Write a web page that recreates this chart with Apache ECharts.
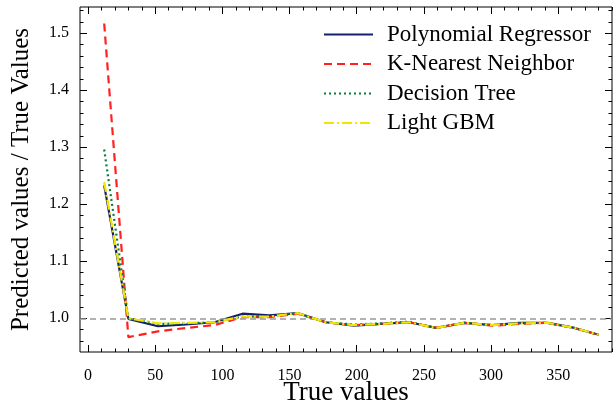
<!DOCTYPE html>
<html>
<head>
<meta charset="utf-8">
<script src="https://cdn.jsdelivr.net/npm/echarts@6/dist/echarts.min.js"></script>
<style>
html,body{margin:0;padding:0;background:#fff;}
#chart{width:613px;height:405px;}
</style>
</head>
<body>
<div id="chart"></div>
<script>
// ---- data ----
const xVals = [12, 30, 52, 73, 94, 115, 135, 156, 177, 198, 218, 239, 259, 280, 301, 321, 342, 362, 380];
const polyReg = [1.233, 0.999, 0.986, 0.989, 0.993, 1.008, 1.005, 1.009, 0.993, 0.987, 0.990, 0.993, 0.983, 0.992, 0.988, 0.992, 0.992, 0.983, 0.971];
const knn     = [1.517, 0.967, 0.977, 0.983, 0.988, 1.002, 1.002, 1.008, 0.993, 0.988, 0.990, 0.993, 0.983, 0.992, 0.987, 0.990, 0.992, 0.983, 0.971];
const dtree   = [1.296, 1.000, 0.990, 0.991, 0.993, 1.003, 1.003, 1.009, 0.993, 0.989, 0.991, 0.994, 0.983, 0.992, 0.988, 0.991, 0.992, 0.983, 0.971];
const lgbm    = [1.239, 1.000, 0.991, 0.992, 0.993, 1.003, 1.003, 1.009, 0.993, 0.988, 0.990, 0.993, 0.983, 0.992, 0.988, 0.991, 0.992, 0.983, 0.971];
const seriesNames = ['Polynomial Regressor', 'K-Nearest Neighbor', 'Decision Tree', 'Light GBM'];
const xTicks = [0, 50, 100, 150, 200, 250, 300, 350];
const yTicks = [1.0, 1.1, 1.2, 1.3, 1.4, 1.5];
const refLine = 1.0;

// axis extents
const X_MIN = -6, X_MAX = 390, Y_MIN = 0.9408, Y_MAX = 1.546;
const xMinor = []; for (let v = 0; v <= 390; v += 10) xMinor.push(v);
const yMinor = []; for (let i = 48; i <= 77; i++) yMinor.push(+(i * 0.02).toFixed(2));

const FONT = '"Liberation Serif", "DejaVu Serif", serif';
const pair = arr => xVals.map((x, i) => [x, arr[i]]);

function xAxisDef(pos, ticks, len, labels, name) {
  return {
    type: 'value', position: pos, min: X_MIN, max: X_MAX, gridIndex: 0,
    axisLine: { show: false, onZero: false },
    splitLine: { show: false },
    axisTick: { show: true, inside: true, length: len, customValues: ticks, lineStyle: { color: '#000', width: 1 } },
    axisLabel: labels ? { show: true, customValues: xTicks, color: '#000', fontFamily: FONT, fontSize: 16, margin: 16 } : { show: false },
    name: name || '', nameLocation: 'middle', nameGap: 27, nameMoveOverlap: false,
    nameTextStyle: { color: '#000', fontFamily: FONT, fontSize: 27 }
  };
}
function yAxisDef(pos, ticks, len, labels, name) {
  return {
    type: 'value', position: pos, min: Y_MIN, max: Y_MAX, gridIndex: 0,
    axisLine: { show: false, onZero: false },
    splitLine: { show: false },
    axisTick: { show: true, inside: true, length: len, customValues: ticks, lineStyle: { color: '#000', width: 1 } },
    axisLabel: labels ? { show: true, customValues: yTicks, color: '#000', fontFamily: FONT, fontSize: 16, margin: 11, formatter: v => v.toFixed(1) } : { show: false },
    name: name || '', nameLocation: 'middle', nameGap: 46, nameMoveOverlap: false,
    nameTextStyle: { color: '#000', fontFamily: FONT, fontSize: 25 }
  };
}

const chart = echarts.init(document.getElementById('chart'), null, { renderer: 'canvas' });
chart.setOption({
  animation: false,
  backgroundColor: '#fff',
  grid: { left: 80, right: 1, top: 7, bottom: 53, show: true, borderColor: '#000', borderWidth: 1, backgroundColor: 'transparent', containLabel: false, outerBoundsMode: 'none' },
  legend: {
    orient: 'vertical', left: 318, top: 18,
    itemWidth: 49, itemHeight: 20, itemGap: 6.5,
    itemStyle: { opacity: 0 },
    textStyle: { color: '#000', fontFamily: FONT, fontSize: 23, padding: [0, 0, 0, 9] },
    data: seriesNames
  },
  xAxis: [
    xAxisDef('bottom', xTicks, 7, true, 'True values'),
    xAxisDef('bottom', xMinor, 3.5, false),
    xAxisDef('top', xTicks, 7, false),
    xAxisDef('top', xMinor, 3.5, false)
  ],
  yAxis: [
    yAxisDef('left', yTicks, 7, true, 'Predicted values / True Values'),
    yAxisDef('left', yMinor, 3.5, false),
    yAxisDef('right', yTicks, 7, false),
    yAxisDef('right', yMinor, 3.5, false)
  ],
  series: [
    {
      name: seriesNames[0], type: 'line', data: pair(polyReg), symbol: 'none', z: 3,
      lineStyle: { color: '#14206e', width: 2.2, type: 'solid' }, itemStyle: { color: '#14206e' },
      markLine: {
        silent: true, symbol: 'none', label: { show: false },
        lineStyle: { color: '#999', width: 1.5, type: [6, 4] },
        data: [{ yAxis: refLine }]
      }
    },
    {
      name: seriesNames[1], type: 'line', data: pair(knn), symbol: 'none', z: 4,
      lineStyle: { color: '#ff2020', width: 2.2, type: [8, 5] }, itemStyle: { color: '#ff2020' }
    },
    {
      name: seriesNames[2], type: 'line', data: pair(dtree), symbol: 'none', z: 5,
      lineStyle: { color: '#0a7d3a', width: 2.2, type: [2, 3] }, itemStyle: { color: '#0a7d3a' }
    },
    {
      name: seriesNames[3], type: 'line', data: pair(lgbm), symbol: 'none', z: 6,
      lineStyle: { color: '#f2e600', width: 2.2, type: [10, 3, 2, 3] }, itemStyle: { color: '#f2e600' }
    }
  ]
});
</script>
</body>
</html>
